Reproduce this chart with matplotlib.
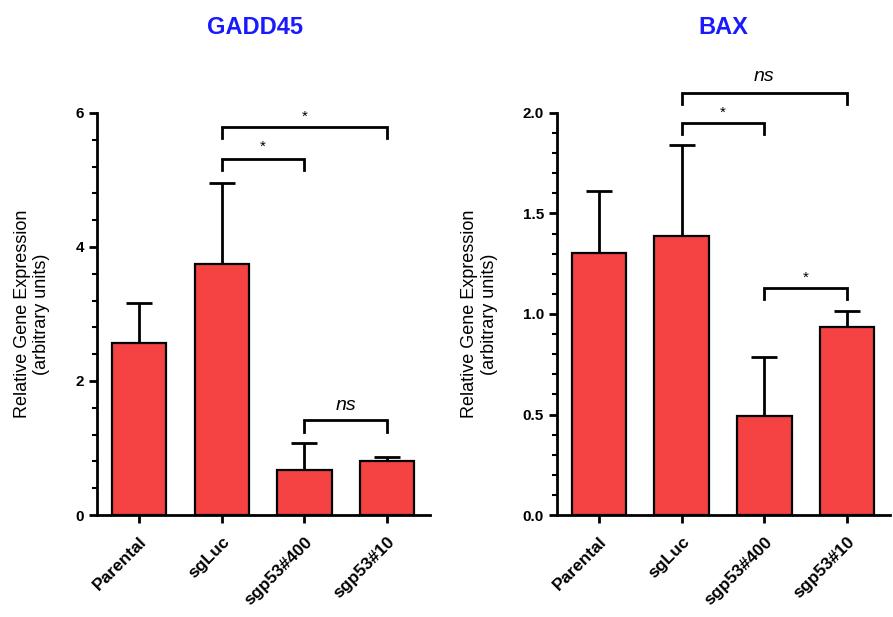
import numpy as np
import matplotlib
matplotlib.use('Agg')
import matplotlib.pyplot as plt
from matplotlib.ticker import MultipleLocator

plt.rcParams['font.family'] = ['Liberation Sans', 'DejaVu Sans']

groups = ['Parental', 'sgLuc', 'sgp53#400', 'sgp53#10']

gadd45_mean = [2.57, 3.75, 0.67, 0.80]
gadd45_err = [0.60, 1.21, 0.40, 0.07]

bax_mean = [1.305, 1.39, 0.495, 0.935]
bax_err = [0.305, 0.45, 0.29, 0.08]

# brackets: (from group, to group, bar height, leg drop, label, label y)
gadd45_sig = [(1, 2, 5.31, 0.16, '*', 5.50),
              (1, 3, 5.79, 0.16, '*', 5.95),
              (2, 3, 1.42, 0.18, 'ns', 1.64)]
bax_sig = [(1, 3, 2.10, 0.055, 'ns', 2.18),
           (1, 2, 1.95, 0.055, '*', 2.00),
           (2, 3, 1.13, 0.055, '*', 1.18)]

bar_color = '#f54242'
title_color = '#1a1aff'

fig = plt.figure(figsize=(8.93, 6.17), dpi=100)
ax1 = fig.add_axes([0.1086, 0.1653, 0.373, 0.6516])
ax2 = fig.add_axes([0.6237, 0.1653, 0.373, 0.6516])


def draw(ax, means, errs, sig, ymax, major, minor, fmt):
    x = np.arange(len(groups))
    ax.bar(x, means, width=0.66, color=bar_color, edgecolor='black', linewidth=1.6, zorder=2)
    ax.errorbar(x, means, yerr=[np.zeros(len(errs)), errs], fmt='none', ecolor='black',
                elinewidth=2, capsize=9.5, capthick=2, zorder=1)
    for a, b, h, d, lab, ty in sig:
        ax.plot([a, a, b, b], [h - d, h, h, h - d], color='black', lw=2, clip_on=False,
                solid_joinstyle='miter')
        if lab == 'ns':
            ax.text((a + b) / 2, ty, lab, ha='center', va='center', fontsize=14,
                    style='italic', clip_on=False)
        else:
            ax.text((a + b) / 2, ty, lab, ha='center', va='center', fontsize=11,
                    clip_on=False)
    ax.set_xlim(-0.51, 3.52)
    ax.set_ylim(0, ymax)
    ax.spines['top'].set_visible(False)
    ax.spines['right'].set_visible(False)
    ax.spines['left'].set_linewidth(2)
    ax.spines['bottom'].set_linewidth(2)
    ax.yaxis.set_major_locator(MultipleLocator(major))
    ax.yaxis.set_minor_locator(MultipleLocator(minor))
    ax.yaxis.set_major_formatter(fmt)
    ax.tick_params(axis='y', which='major', width=2, length=6, labelsize=11)
    ax.tick_params(axis='y', which='minor', width=1.5, length=3.5)
    ax.tick_params(axis='x', width=2, length=6, pad=8)
    ax.set_xticks(x)
    ax.set_xticklabels(groups, rotation=45, ha='right', rotation_mode='anchor',
                       fontsize=12.5, fontweight='bold')
    for lab in ax.get_yticklabels():
        lab.set_fontweight('bold')
    ax.set_ylabel('Relative Gene Expression\n(arbitrary units)', fontsize=13, labelpad=18)


draw(ax1, gadd45_mean, gadd45_err, gadd45_sig, 6, 2, 0.4, '{x:.0f}')
draw(ax2, bax_mean, bax_err, bax_sig, 2.0, 0.5, 0.1, '{x:.1f}')

fig.text(0.286, 0.955, 'GADD45', color=title_color, fontsize=17, fontweight='bold',
         ha='center', va='center')
fig.text(0.81, 0.955, 'BAX', color=title_color, fontsize=17, fontweight='bold',
         ha='center', va='center')

fig.savefig('out.png', dpi=100)
